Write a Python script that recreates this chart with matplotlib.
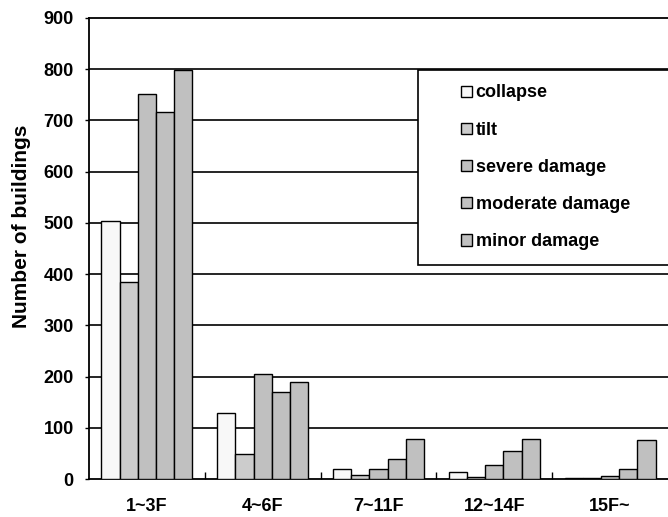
import matplotlib
matplotlib.use("Agg")
import matplotlib.pyplot as plt
from matplotlib.patches import Rectangle
from matplotlib.legend_handler import HandlerPatch
from matplotlib.container import BarContainer
import numpy as np

plt.rcParams['font.family'] = ['Liberation Sans', 'DejaVu Sans']
plt.rcParams['font.weight'] = 'bold'

# data
categories = ["1~3F", "4~6F", "7~11F", "12~14F", "15F~"]
collapse = [503, 129, 20, 14, 2]
tilt = [385, 48, 8, 3, 2]
severe = [752, 205, 20, 27, 6]
moderate = [717, 170, 40, 55, 20]
minor = [798, 189, 79, 79, 77]

series = [("collapse", collapse, "#f8f8f8"),
          ("tilt", tilt, "#cccccc"),
          ("severe damage", severe, "#c0c0c0"),
          ("moderate damage", moderate, "#c0c0c0"),
          ("minor damage", minor, "#c0c0c0")]

fig = plt.figure(figsize=(6.68, 5.17), dpi=100)
ax = fig.add_axes([0.1332, 0.0735, 0.8668, 0.8917])

x = np.arange(len(categories)) + 0.5
bw = 0.157
for i, (name, vals, col) in enumerate(series):
    ax.bar(x + (i - 2) * bw, vals, bw, color=col, edgecolor="black",
           linewidth=1.0, label=name, zorder=3)

ax.set_xlim(0, 5)
ax.set_ylim(0, 900)
ax.set_yticks(range(0, 901, 100))
for yv in range(100, 900, 100):
    ax.axhline(yv, color="black", linewidth=1.2, zorder=1)

ax.set_xticks(x)
ax.set_xticklabels(categories, fontsize=13, fontweight="bold")
ax.tick_params(axis="x", which="major", length=0, pad=14)
ax.set_xticks([1, 2, 3, 4], minor=True)
ax.tick_params(axis="x", which="minor", direction="in", length=5, width=1)
ax.tick_params(axis="y", direction="out", length=3, width=1, labelsize=13, pad=8)
for lab in ax.get_yticklabels():
    lab.set_fontweight("bold")

ax.spines["right"].set_visible(False)
for s in ["left", "bottom", "top"]:
    ax.spines[s].set_linewidth(1.3)

ax.set_ylabel("Number of buildings", fontsize=15, fontweight="bold")
ax.yaxis.set_label_coords(-0.100, 0.549)


def square(legend, orig_handle, xdescent, ydescent, width, height, fontsize):
    s = 8
    return Rectangle((-xdescent + width - s, -ydescent + (height - s) / 2), s, s)


def first_child(legend_handle, orig_handle):
    legend_handle.update_from(orig_handle[0])


leg = ax.legend(loc="upper left", mode="expand",
                bbox_to_anchor=(0.626, 0.0, 0.5, 0.8646),
                bbox_transform=fig.transFigure, borderaxespad=0,
                fontsize=13, labelspacing=1.12, borderpad=0.8,
                handlelength=2.16, handletextpad=0.22, fancybox=False,
                framealpha=1, edgecolor="black",
                handler_map={BarContainer: HandlerPatch(patch_func=square,
                                                        update_func=first_child)})
leg.get_frame().set_linewidth(1.2)
for t in leg.get_texts():
    t.set_fontweight("bold")

fig.savefig("out.png", dpi=100)
